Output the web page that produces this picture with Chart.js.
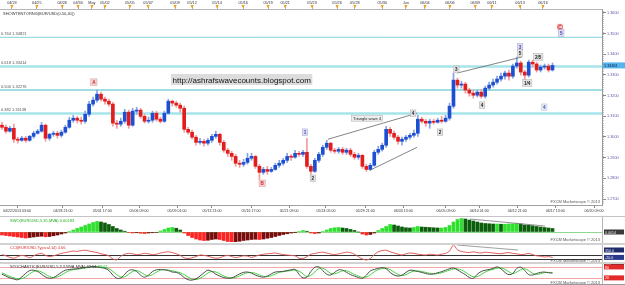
<!DOCTYPE html>
<html>
<head>
<meta charset="utf-8">
<title>EUR/USD H4 ondas</title>
<script src="https://cdn.jsdelivr.net/npm/chart.js@4.4.1/dist/chart.umd.min.js"></script>
<style>
html, body { margin:0; padding:0; background:#fff; }
#marco { position:relative; width:625px; height:285px; overflow:hidden; background:#fff; }
#marco canvas { position:absolute; left:0; }
.sep { position:absolute; left:0; width:625px; }
</style>
</head>
<body>
<div id="marco">
  <canvas id="c_precio" width="625" height="216" style="top:0px"></canvas>
  <canvas id="c_osc" width="625" height="27" style="top:216px"></canvas>
  <canvas id="c_cci" width="625" height="20" style="top:243px"></canvas>
  <canvas id="c_esto" width="625" height="22" style="top:263px"></canvas>
  <div class="sep" style="top:216px;height:1px;background:#c4c4c4"></div>
  <div class="sep" style="top:243px;height:2px;background:#d2d2d2"></div>
  <div class="sep" style="top:262px;height:2px;background:#d2d2d2"></div>
  <div class="sep" style="top:284px;height:1px;background:#9a9a9a"></div>
</div>
<script>
// ---- velas EUR/USD (4 horas) ----
var aperturas = [
 1.3057,1.3047,1.3028,1.3042,1.2989,1.2984,1.2994,1.2984,1.3003,1.3018,
 1.3028,1.3057,1.2994,1.3013,1.3018,1.3008,1.3023,1.3047,1.3081,1.3091,
 1.3081,1.3076,1.3110,1.3159,1.3178,1.3207,1.3183,1.3173,1.3159,1.3067,
 1.3062,1.3076,1.3120,1.3057,1.3125,1.3130,1.3100,1.3076,1.3081,1.3115,
 1.3086,1.3076,1.3115,1.3173,1.3164,1.3154,1.3139,1.3037,1.3023,1.2999,
 1.2974,1.2979,1.2970,1.2984,1.3003,1.3013,1.2974,1.2936,1.2921,1.2906,
 1.2873,1.2868,1.2877,1.2897,1.2906,1.2858,1.2829,1.2843,1.2834,1.2843,
 1.2863,1.2873,1.2887,1.2906,1.2902,1.2921,1.2916,1.2926,1.2858,1.2834,
 1.2887,1.2916,1.2950,1.2970,1.2936,1.2931,1.2940,1.2926,1.2936,1.2916,
 1.2902,1.2911,1.2858,1.2843,1.2863,1.2926,1.2940,1.2960,1.3037,1.3018,
 1.2999,1.2979,1.2989,1.2999,1.3008,1.3018,1.3086,1.3076,1.3067,1.3076,
 1.3071,1.3081,1.3076,1.3091,1.3149,1.3275,1.3251,1.3256,1.3227,1.3212,
 1.3202,1.3217,1.3197,1.3236,1.3251,1.3265,1.3280,1.3294,1.3309,1.3294,
 1.3343,1.3358,1.3314,1.3299,1.3362,1.3353,1.3324,1.3338,1.3343,1.3324];
var maximos = [
 1.3071,1.3057,1.3052,1.3062,1.2999,1.3003,1.3003,1.3008,1.3028,1.3037,
 1.3071,1.3062,1.3018,1.3028,1.3028,1.3033,1.3057,1.3096,1.3105,1.3100,
 1.3096,1.3125,1.3173,1.3193,1.3227,1.3217,1.3193,1.3183,1.3168,1.3081,
 1.3091,1.3134,1.3130,1.3139,1.3144,1.3139,1.3110,1.3096,1.3125,1.3125,
 1.3096,1.3125,1.3183,1.3178,1.3173,1.3164,1.3149,1.3047,1.3033,1.3008,
 1.2994,1.2989,1.2994,1.3013,1.3028,1.3018,1.2984,1.2945,1.2931,1.2916,
 1.2887,1.2892,1.2921,1.2921,1.2911,1.2868,1.2853,1.2858,1.2853,1.2873,
 1.2887,1.2897,1.2921,1.2916,1.2936,1.2931,1.2936,1.2994,1.2868,1.2897,
 1.2926,1.2960,1.2984,1.2974,1.2945,1.2950,1.2950,1.2945,1.2945,1.2926,
 1.2921,1.2916,1.2868,1.2873,1.2936,1.2955,1.2970,1.3052,1.3047,1.3028,
 1.3008,1.2999,1.3008,1.3018,1.3033,1.3105,1.3096,1.3086,1.3086,1.3086,
 1.3091,1.3100,1.3105,1.3164,1.3309,1.3285,1.3270,1.3265,1.3236,1.3227,
 1.3227,1.3231,1.3246,1.3265,1.3280,1.3294,1.3309,1.3319,1.3324,1.3353,
 1.3387,1.3367,1.3324,1.3372,1.3372,1.3362,1.3348,1.3353,1.3353,1.3358];
var minimos = [
 1.3037,1.3018,1.3023,1.2974,1.2970,1.2979,1.2974,1.2979,1.2994,1.3013,
 1.3023,1.2979,1.2984,1.3003,1.2994,1.2999,1.3018,1.3042,1.3071,1.3067,
 1.3062,1.3067,1.3100,1.3149,1.3168,1.3173,1.3159,1.3149,1.3052,1.3042,
 1.3052,1.3067,1.3042,1.3052,1.3110,1.3091,1.3067,1.3067,1.3071,1.3076,
 1.3067,1.3071,1.3110,1.3149,1.3144,1.3120,1.3023,1.3013,1.2989,1.2960,
 1.2965,1.2955,1.2960,1.2974,1.2994,1.2960,1.2926,1.2906,1.2887,1.2858,
 1.2853,1.2858,1.2868,1.2887,1.2848,1.2795,1.2819,1.2819,1.2829,1.2839,
 1.2853,1.2863,1.2877,1.2887,1.2897,1.2906,1.2906,1.2848,1.2819,1.2829,
 1.2877,1.2906,1.2940,1.2926,1.2921,1.2921,1.2916,1.2916,1.2906,1.2892,
 1.2892,1.2848,1.2834,1.2839,1.2858,1.2916,1.2931,1.2950,1.3003,1.2989,
 1.2965,1.2960,1.2979,1.2989,1.2999,1.3003,1.3067,1.3052,1.3042,1.3062,
 1.3067,1.3067,1.3071,1.3081,1.3139,1.3236,1.3236,1.3212,1.3197,1.3188,
 1.3193,1.3188,1.3188,1.3227,1.3241,1.3256,1.3270,1.3280,1.3275,1.3285,
 1.3333,1.3299,1.3275,1.3290,1.3338,1.3314,1.3314,1.3328,1.3314,1.3319];
var cierres = [
 1.3047,1.3028,1.3042,1.2989,1.2984,1.2994,1.2984,1.3003,1.3018,1.3028,
 1.3057,1.2994,1.3013,1.3018,1.3008,1.3023,1.3047,1.3081,1.3091,1.3081,
 1.3076,1.3110,1.3159,1.3178,1.3207,1.3183,1.3173,1.3159,1.3067,1.3062,
 1.3076,1.3120,1.3057,1.3125,1.3130,1.3100,1.3076,1.3081,1.3115,1.3086,
 1.3076,1.3115,1.3173,1.3164,1.3154,1.3139,1.3037,1.3023,1.2999,1.2974,
 1.2979,1.2970,1.2984,1.3003,1.3013,1.2974,1.2936,1.2921,1.2906,1.2873,
 1.2868,1.2877,1.2897,1.2906,1.2858,1.2829,1.2843,1.2834,1.2843,1.2863,
 1.2873,1.2887,1.2906,1.2902,1.2921,1.2916,1.2926,1.2858,1.2834,1.2887,
 1.2916,1.2950,1.2970,1.2936,1.2931,1.2940,1.2926,1.2936,1.2916,1.2902,
 1.2911,1.2858,1.2843,1.2863,1.2926,1.2940,1.2960,1.3037,1.3018,1.2999,
 1.2979,1.2989,1.2999,1.3008,1.3018,1.3086,1.3076,1.3067,1.3076,1.3071,
 1.3081,1.3076,1.3091,1.3149,1.3275,1.3251,1.3256,1.3227,1.3212,1.3202,
 1.3217,1.3197,1.3236,1.3251,1.3265,1.3280,1.3294,1.3309,1.3294,1.3343,
 1.3358,1.3314,1.3299,1.3362,1.3353,1.3324,1.3338,1.3343,1.3324,1.33461];

// ---- indicadores ----
var oscilador = [
 -0.0012,-0.0014,-0.0016,-0.0018,-0.0020,-0.0022,-0.0024,-0.0022,-0.0020,-0.0018,
 -0.0017,-0.0019,-0.0018,-0.0015,-0.0012,-0.0008,-0.0004,0.0002,0.0008,0.0014,
 0.0020,0.0026,0.0032,0.0038,0.0042,0.0040,0.0036,0.0030,0.0022,0.0014,
 0.0008,0.0003,-0.0002,-0.0004,-0.0003,-0.0005,-0.0006,-0.0004,-0.0003,-0.0002,
 0.0004,0.0010,0.0016,0.0018,0.0015,0.0008,-0.0004,-0.0014,-0.0022,-0.0028,
 -0.0032,-0.0034,-0.0033,-0.0030,-0.0028,-0.0030,-0.0034,-0.0038,-0.0040,-0.0039,
 -0.0037,-0.0034,-0.0032,-0.0030,-0.0029,-0.0030,-0.0028,-0.0025,-0.0022,-0.0018,
 -0.0014,-0.0010,-0.0007,-0.0004,-0.0001,0.0002,0.0006,0.0003,-0.0004,-0.0006,
 -0.0004,0.0002,0.0008,0.0014,0.0017,0.0018,0.0016,0.0014,0.0010,0.0006,
 0.0000,-0.0008,-0.0012,-0.0010,-0.0004,0.0006,0.0014,0.0022,0.0030,0.0028,
 0.0024,0.0020,0.0017,0.0016,0.0018,0.0022,0.0020,0.0019,0.0018,0.0017,
 0.0016,0.0016,0.0018,0.0026,0.0040,0.0050,0.0054,0.0052,0.0048,0.0044,
 0.0040,0.0036,0.0034,0.0033,0.0032,0.0032,0.0031,0.0031,0.0032,0.0033,
 0.0034,0.0032,0.0028,0.0027,0.0025,0.0022,0.0020,0.0018,0.0016,0.0014];
var cci = [
 120,60,-20,-60,20,80,40,-40,60,140,
 180,80,20,60,120,180,220,260,300,280,
 320,340,300,260,220,160,120,60,-100,-140,
 40,140,180,160,120,140,180,160,120,140,
 200,240,260,220,160,80,-40,-80,-40,20,
 100,80,40,-20,-60,-40,40,80,20,-30,
 10,60,40,-20,40,100,140,160,180,200,
 160,120,100,80,60,-60,-80,20,140,180,
 220,240,200,150,120,160,200,240,220,140,
 20,-100,-150,-80,120,260,320,340,260,200,
 140,100,160,200,180,140,120,100,140,120,
 100,140,180,300,600,360,280,240,220,260,
 220,200,240,220,200,180,160,200,220,180,
 160,120,140,180,120,60,40,0,20,-20];
var esto_k = [
 40,30,20,14,10,25,45,60,62,55,
 40,25,18,22,35,50,62,66,68,70,
 74,78,80,82,80,76,72,60,35,18,
 20,40,60,64,55,35,24,35,55,64,
 66,64,60,52,50,40,22,10,8,15,
 30,48,62,55,40,30,22,18,20,30,
 42,50,52,46,35,28,24,30,42,52,
 54,56,60,64,66,40,20,25,55,78,
 80,60,40,36,50,64,62,50,38,30,
 22,18,35,58,66,72,76,70,50,36,
 30,35,50,62,60,55,50,44,40,42,
 48,54,62,70,74,64,50,38,22,18,
 40,55,62,66,72,80,70,50,38,45,
 72,78,60,38,36,44,50,52,48,46];
var esto_d = [
 48,38,28,20,15,16,26,42,55,59,
 52,40,28,22,25,36,49,59,65,68,
 71,74,77,80,81,79,76,70,55,38,
 25,26,40,55,60,51,38,31,38,51,
 62,65,63,59,54,48,38,24,14,11,
 18,31,47,55,52,42,31,23,20,23,
 31,41,48,49,45,36,29,27,32,41,
 50,54,57,60,63,57,42,28,34,53,
 71,73,60,45,42,50,59,59,50,39,
 30,23,25,37,53,65,71,73,65,52,
 39,33,38,49,57,58,55,50,45,42,
 43,48,55,62,69,69,63,51,37,26,
 27,38,52,61,67,73,74,67,53,44,
 52,65,70,59,45,39,43,49,50,49];

// ---- ejes ----
var precios_ticks = [1.27,1.28,1.29,1.30,1.31,1.32,1.33,1.34,1.35,1.36];
var tiempo_pos = [3.8,15.4,25.3,34.6,44.2,53.0,62.9,72.5,81.8,91.7,101.3,112.1,120.5,130.1,139.7,149.5];
var tiempo_etiquetas = ['04/22/2013 03:00','04/28 21:00','05/01 17:00','05/06 09:00','05/09 01:00','05/13 21:00',
  '05/16 17:00','05/21 09:00','05/24 05:00','05/29 21:00','06/03 13:00','06/05 09:00','06/10 01:00',
  '06/12 21:00','06/17 13:00','06/20 09:00'];
var fechas_pos = [2.5,8.8,15.2,19.2,22.7,26.0,32.3,36.9,43.7,48.0,54.3,60.9,67.2,71.5,78.3,84.6,89.1,96.0,
  102.0,106.8,113.1,119.5,123.7,130.8,136.6];
var fechas_etiquetas = ['04/23','04/25','04/26','04/30','May','05/02','05/05','05/07','05/09','05/12','05/14',
  '05/16','05/19','05/21','05/23','05/26','05/28','05/30','Jun','06/04','06/06','06/09','06/11','06/13','06/16'];

// ---- fibonacci ----
var fibo_ratios = [0.764, 0.618, 0.500, 0.382];
var fibo_precios = [1.34821, 1.33414, 1.32276, 1.31138];

// ---- conteo de ondas ----
var ondas_texto = ['A','1','B','2','Triangle wave 4','4','2','3','4','3','5','2/5','1/4','4','C','5'];
var ondas_idx = [23.2,76.5,65.7,78.5,92.2,103.8,110.6,114.7,121.2,130.8,130.8,135.4,132.6,136.9,140.9,141.2];
var ondas_precio = [1.3265,1.3023,1.2776,1.2800,1.3091,1.3115,1.3023,1.3328,1.3154,1.3435,1.3406,1.3387,1.3261,1.3144,1.3532,1.3503];

// ---- lineas de tendencia ----
var tri_sup_idx = [82.3, 104.8], tri_sup_precio = [1.2989, 1.3115];
var tri_inf_idx = [92.9, 104.8], tri_inf_precio = [1.2839, 1.2950];
var onda3_idx = [114.9, 131.3], onda3_precio = [1.3309, 1.3387];
var osc_linea_idx = [118.2, 137.1], osc_linea_val = [0.0052, 0.0024];
var cci_linea_idx = [114.9, 130.3], cci_linea_val = [600, 350];
var cci_niveles = [100, -100];
var esto_niveles = [80, 20];

// ---- estilo ----
var FUENTE = '"Liberation Sans", Arial, sans-serif';
var X_MIN = -0.5, X_MAX = 151.5;
var ondas_estilo = ['rojo','lila','rojo','gris','nota','gris','gris','gris','gris','lila','gris','gris','gris','azul','circulo','lila'];
var ESTILOS = {
  rojo: {fondo:'#f3d3d3', texto:'#d81e1e', borde:'#d6a0a0'},
  lila: {fondo:'#dcdcf2', texto:'#4646b0', borde:'#a8a8d0'},
  gris: {fondo:'#e2e2e2', texto:'#222', borde:'#b0b0b0'},
  azul: {fondo:'#e6e6ee', texto:'#2f62d8', borde:'#c4c4d4'},
  nota: {fondo:'#ececec', texto:'#222', borde:'#aaa'},
  circulo: {fondo:'#f6d6d6', texto:'#d81e1e', borde:'#d81e1e'}
};
var fibo_color = ['#7fd4da', '#a6e4ea', '#7fd4da', '#a6e4ea'];
var fibo_ancho = [1, 2.5, 1.5, 2.5];

function linea(idx, vals){
  return [{x: idx[0], y: vals[0]}, {x: idx[1], y: vals[1]}];
}

function texto(ctx, s, x, y, color, tam, alinear, negrita){
  ctx.font = (negrita ? 'bold ' : '') + tam + 'px ' + FUENTE;
  ctx.fillStyle = color;
  ctx.textAlign = alinear || 'left';
  ctx.textBaseline = 'alphabetic';
  ctx.fillText(s, x, y);
}

function caja_valor(ctx, s, y, fondo, color){
  ctx.fillStyle = fondo;
  ctx.fillRect(604, y - 2.5, 20, 5);
  texto(ctx, s, 605, y + 1.6, color, 3.6);
}

function etiqueta_onda(ctx, s, x, y, nombre){
  var e = ESTILOS[nombre];
  var tam = nombre == 'nota' ? 4 : 4.6;
  ctx.font = (nombre == 'nota' ? '' : 'bold ') + tam + 'px ' + FUENTE;
  var w = ctx.measureText(s).width + 3;
  var h = tam + 2;
  ctx.fillStyle = e.fondo;
  ctx.fillRect(x - w / 2, y - h / 2, w, h);
  ctx.strokeStyle = e.borde;
  ctx.lineWidth = 0.5;
  if (nombre == 'circulo') {
    ctx.beginPath(); ctx.arc(x, y, 2.6, 0, Math.PI * 2); ctx.stroke();
  } else {
    ctx.strokeRect(x - w / 2, y - h / 2, w, h);
  }
  ctx.fillStyle = e.texto;
  ctx.textAlign = 'center';
  ctx.textBaseline = 'middle';
  ctx.fillText(s, x, y + 0.4);
}

function marca_agua(ctx, y){
  texto(ctx, 'FXCM Marketscope \u00a9 2013', 600, y, '#555', 4, 'right');
}

// ---- velas: mechas y cuerpos como barras flotantes ----
var mechas = [], cuerpos = [], col_mechas = [], col_cuerpos = [];
for (var i = 0; i < cierres.length; i++) {
  var sube = cierres[i] >= aperturas[i];
  mechas.push({x: i, y: [minimos[i], maximos[i]]});
  cuerpos.push({x: i, y: [aperturas[i], cierres[i]]});
  col_mechas.push(sube ? '#86a4e4' : '#f29c9c');
  col_cuerpos.push(sube ? '#1d4fd2' : '#e31c1c');
}

var plugin_precio = {
  id: 'plugin_precio',
  beforeDatasetsDraw: function(chart){
    var ctx = chart.ctx, ya = chart.scales.y, ca = chart.chartArea;
    ctx.save();
    for (var k = 0; k < fibo_precios.length; k++) {
      var yy = ya.getPixelForValue(fibo_precios[k]);
      ctx.strokeStyle = fibo_color[k];
      ctx.lineWidth = fibo_ancho[k];
      ctx.beginPath(); ctx.moveTo(ca.left, yy); ctx.lineTo(ca.right, yy); ctx.stroke();
      texto(ctx, fibo_ratios[k].toFixed(3) + ' ' + fibo_precios[k].toFixed(5), ca.left + 1, yy - 2, '#555', 4);
    }
    texto(ctx, 'SHOWTENTORNG(EUR/USD(0.50,40))', 3, ca.top + 6, '#333', 4);
    // caja del blog
    var url = 'http://ashrafswavecounts.blogspot.com';
    ctx.font = '8px ' + FUENTE;
    var w = ctx.measureText(url).width;
    ctx.fillStyle = '#dcdcdc';
    ctx.fillRect(171, 74, w + 3, 11);
    texto(ctx, url, 172.5, 82.5, '#111', 8);
    ctx.restore();
  },
  afterDatasetsDraw: function(chart){
    var ctx = chart.ctx, xa = chart.scales.x, ya = chart.scales.y, ca = chart.chartArea;
    ctx.save();
    for (var k = 0; k < ondas_texto.length; k++) {
      etiqueta_onda(ctx, ondas_texto[k], xa.getPixelForValue(ondas_idx[k]), ya.getPixelForValue(ondas_precio[k]), ondas_estilo[k]);
    }
    marca_agua(ctx, ca.bottom - 2);
    ctx.restore();
  },
  afterDraw: function(chart){
    var ctx = chart.ctx, ya = chart.scales.y, xs = chart.scales.xs, ca = chart.chartArea;
    ctx.save();
    // regla del eje de precios
    ctx.strokeStyle = '#999';
    ctx.lineWidth = 0.6;
    for (var k = 1268; k <= 1361; k++) {
      var yy = Math.round(ya.getPixelForValue(k / 1000)) + 0.5;
      ctx.beginPath(); ctx.moveTo(ca.right, yy); ctx.lineTo(ca.right + 2, yy); ctx.stroke();
    }
    // triangulos naranjas de la franja de fechas
    ctx.fillStyle = '#f0a020';
    for (var j = 0; j < fechas_pos.length; j++) {
      var px = xs.getPixelForValue(fechas_pos[j]);
      ctx.beginPath(); ctx.moveTo(px - 1.6, 5); ctx.lineTo(px + 1.6, 5); ctx.lineTo(px, 8.5); ctx.closePath(); ctx.fill();
    }
    // precio actual
    var ult = cierres[cierres.length - 1];
    var yp = ya.getPixelForValue(ult);
    ctx.fillStyle = '#55b4ec';
    ctx.fillRect(603, yp - 3, 22, 6);
    texto(ctx, ult.toFixed(5), 604, yp + 1.6, '#0c2450', 3.8);
    ctx.restore();
  }
};

new Chart(document.getElementById('c_precio'), {
  type: 'bar',
  data: {
    datasets: [
      {label: 'mechas', data: mechas, backgroundColor: col_mechas, barThickness: 1, grouped: false, xAxisID: 'x', yAxisID: 'y', order: 3},
      {label: 'cuerpos', data: cuerpos, backgroundColor: col_cuerpos, barThickness: 3, minBarLength: 1, grouped: false, xAxisID: 'x', yAxisID: 'y', order: 2},
      {type: 'line', label: 'tri_sup', data: linea(tri_sup_idx, tri_sup_precio), borderColor: '#666', borderWidth: 0.8, pointRadius: 0, xAxisID: 'x', yAxisID: 'y', order: 1},
      {type: 'line', label: 'tri_inf', data: linea(tri_inf_idx, tri_inf_precio), borderColor: '#666', borderWidth: 0.8, pointRadius: 0, xAxisID: 'x', yAxisID: 'y', order: 1},
      {type: 'line', label: 'onda3', data: linea(onda3_idx, onda3_precio), borderColor: '#666', borderWidth: 0.8, pointRadius: 0, xAxisID: 'x', yAxisID: 'y', order: 1}
    ]
  },
  options: {
    responsive: false, animation: false, events: [], devicePixelRatio: 1,
    layout: {padding: 0},
    plugins: {legend: {display: false}, tooltip: {enabled: false}},
    scales: {
      x: {
        type: 'linear', position: 'bottom', min: X_MIN, max: X_MAX, offset: false,
        grid: {offset: false, drawOnChartArea: false, tickLength: 3, color: '#8a8a8a'},
        border: {color: '#a0a0a0'},
        afterBuildTicks: function(s){ s.ticks = tiempo_pos.map(function(v){ return {value: v}; }); },
        afterFit: function(s){ s.height = 11; },
        ticks: {autoSkip: false, maxRotation: 0, minRotation: 0, padding: 1, color: '#333',
          font: {size: 3.6, family: FUENTE},
          callback: function(v, idx){ return tiempo_etiquetas[idx]; }}
      },
      xs: {
        type: 'linear', position: 'top', min: X_MIN, max: X_MAX, offset: false,
        grid: {offset: false, drawOnChartArea: false, tickLength: 4, color: '#b0b0b0'},
        border: {color: '#b8b8b8'},
        afterBuildTicks: function(s){ s.ticks = fechas_pos.map(function(v){ return {value: v}; }); },
        afterFit: function(s){ s.height = 9; },
        ticks: {autoSkip: false, maxRotation: 0, minRotation: 0, padding: 0, color: '#333',
          font: {size: 3.8, family: FUENTE},
          callback: function(v, idx){ return fechas_etiquetas[idx]; }}
      },
      y: {
        type: 'linear', position: 'right', min: 1.2671, max: 1.3619,
        grid: {drawOnChartArea: false, tickLength: 4, color: '#888'},
        border: {color: '#999'},
        afterBuildTicks: function(s){ s.ticks = precios_ticks.map(function(v){ return {value: v}; }); },
        afterFit: function(s){ s.width = 23; },
        ticks: {padding: 1, color: '#5a5aa4', font: {size: 3.8, family: FUENTE},
          callback: function(v){ return v.toFixed(4); }}
      }
    }
  },
  plugins: [plugin_precio]
});

// ---- paneles inferiores ----
function eje_x_oculto(){
  return {type: 'linear', min: X_MIN, max: X_MAX, offset: false, display: false, grid: {offset: false}};
}
function eje_y_derecho(mn, mx){
  return {type: 'linear', position: 'right', min: mn, max: mx,
    grid: {drawOnChartArea: false, drawTicks: false}, border: {color: '#b8b8b8'},
    ticks: {display: false}, afterFit: function(s){ s.width = 23; }};
}
var opciones_base = function(mn, mx, pad){
  return {
    responsive: false, animation: false, events: [], devicePixelRatio: 1,
    layout: {padding: pad},
    plugins: {legend: {display: false}, tooltip: {enabled: false}},
    scales: {x: eje_x_oculto(), y: eje_y_derecho(mn, mx)}
  };
};

// oscilador
var col_osc = [];
for (var i = 0; i < oscilador.length; i++) {
  var v = oscilador[i], ant = i > 0 ? oscilador[i - 1] : v;
  if (v >= 0) col_osc.push(v >= ant ? '#2fe02f' : '#0b5e0b');
  else col_osc.push(v <= ant ? '#ff2424' : '#7a0c0c');
}
var plugin_osc = {
  id: 'plugin_osc',
  beforeDatasetsDraw: function(chart){
    var ctx = chart.ctx, ya = chart.scales.y, ca = chart.chartArea;
    var y0 = Math.round(ya.getPixelForValue(0)) + 0.5;
    ctx.save();
    ctx.strokeStyle = '#8fd88f'; ctx.lineWidth = 1;
    ctx.beginPath(); ctx.moveTo(ca.left, y0); ctx.lineTo(ca.right, y0); ctx.stroke();
    ctx.restore();
  },
  afterDraw: function(chart){
    var ctx = chart.ctx, ya = chart.scales.y, ca = chart.chartArea;
    ctx.save();
    texto(ctx, 'SWO(EUR/USD,5,35,MVA) 0.00183', 10, ca.top + 4.5, '#1fae1f', 4);
    marca_agua(ctx, ca.bottom - 1);
    caja_valor(ctx, oscilador[oscilador.length - 1].toFixed(4), ya.getPixelForValue(0), '#3a3a3a', '#eee');
    ctx.restore();
  }
};
var op_osc = opciones_base(-0.004, 0.006, {top: 1, bottom: 1, left: 0, right: 0});
new Chart(document.getElementById('c_osc'), {
  type: 'bar',
  data: {
    datasets: [
      {data: oscilador.map(function(v, i){ return {x: i, y: v}; }), backgroundColor: col_osc, barThickness: 3, grouped: false, order: 2},
      {type: 'line', data: linea(osc_linea_idx, osc_linea_val), borderColor: '#777', borderWidth: 0.8, pointRadius: 0, order: 1}
    ]
  },
  options: op_osc,
  plugins: [plugin_osc]
});

// CCI
var plugin_cci = {
  id: 'plugin_cci',
  beforeDatasetsDraw: function(chart){
    var ctx = chart.ctx, ya = chart.scales.y, ca = chart.chartArea;
    ctx.save();
    ctx.strokeStyle = '#333'; ctx.lineWidth = 1;
    for (var k = 0; k < cci_niveles.length; k++) {
      var yy = Math.round(ya.getPixelForValue(cci_niveles[k])) + 0.5;
      ctx.beginPath(); ctx.moveTo(ca.left, yy); ctx.lineTo(ca.right, yy); ctx.stroke();
    }
    ctx.restore();
  },
  afterDraw: function(chart){
    var ctx = chart.ctx, ya = chart.scales.y, ca = chart.chartArea;
    ctx.save();
    texto(ctx, 'CCI(EUR/USD,Typical,14) 4.66', 10, ca.top + 4, '#d43030', 4);
    marca_agua(ctx, ca.bottom);
    caja_valor(ctx, '350.0', ya.getPixelForValue(cci_linea_val[1]), '#1e2c6c', '#eee');
    caja_valor(ctx, cci[cci.length - 1].toFixed(1), ya.getPixelForValue(cci[cci.length - 1]), '#2a3a8a', '#eee');
    ctx.restore();
  }
};
new Chart(document.getElementById('c_cci'), {
  type: 'line',
  data: {
    datasets: [
      {data: cci.map(function(v, i){ return {x: i, y: v}; }), borderColor: '#e05a5a', borderWidth: 1, pointRadius: 0, tension: 0.3},
      {data: linea(cci_linea_idx, cci_linea_val), borderColor: '#888', borderWidth: 0.8, pointRadius: 0}
    ]
  },
  options: opciones_base(-250, 600, {top: 2, bottom: 1, left: 0, right: 0}),
  plugins: [plugin_cci]
});

// estocastico
var plugin_esto = {
  id: 'plugin_esto',
  beforeDatasetsDraw: function(chart){
    var ctx = chart.ctx, ya = chart.scales.y, ca = chart.chartArea;
    ctx.save();
    ctx.strokeStyle = '#f4a6a6'; ctx.lineWidth = 1;
    for (var k = 0; k < esto_niveles.length; k++) {
      var yy = Math.round(ya.getPixelForValue(esto_niveles[k])) + 0.5;
      ctx.beginPath(); ctx.moveTo(ca.left, yy); ctx.lineTo(ca.right, yy); ctx.stroke();
    }
    ctx.restore();
  },
  afterDraw: function(chart){
    var ctx = chart.ctx, ya = chart.scales.y, ca = chart.chartArea;
    ctx.save();
    var t1 = 'STOCHASTIC(EUR/USD,5,3,3,MVA,MVA) 42.54 ';
    texto(ctx, t1, 10, ca.top + 3.5, '#333', 4);
    var w = ctx.measureText(t1).width;
    texto(ctx, '37.61', 10 + w, ca.top + 3.5, '#1fae1f', 4);
    marca_agua(ctx, ca.bottom + 1);
    caja_valor(ctx, '100', ya.getPixelForValue(100), '#333', '#eee');
    caja_valor(ctx, '80', ya.getPixelForValue(esto_niveles[0]), '#e22a2a', '#fff');
    caja_valor(ctx, '20', ya.getPixelForValue(esto_niveles[1]), '#e22a2a', '#fff');
    ctx.restore();
  }
};
new Chart(document.getElementById('c_esto'), {
  type: 'line',
  data: {
    datasets: [
      {data: esto_k.map(function(v, i){ return {x: i, y: v}; }), borderColor: '#4a4a4a', borderWidth: 1, pointRadius: 0, tension: 0.4},
      {data: esto_d.map(function(v, i){ return {x: i, y: v}; }), borderColor: '#3fd43f', borderWidth: 1, pointRadius: 0, tension: 0.4}
    ]
  },
  options: opciones_base(-8, 96, {top: 1, bottom: 2, left: 0, right: 0}),
  plugins: [plugin_esto]
});
</script>
</body>
</html>
